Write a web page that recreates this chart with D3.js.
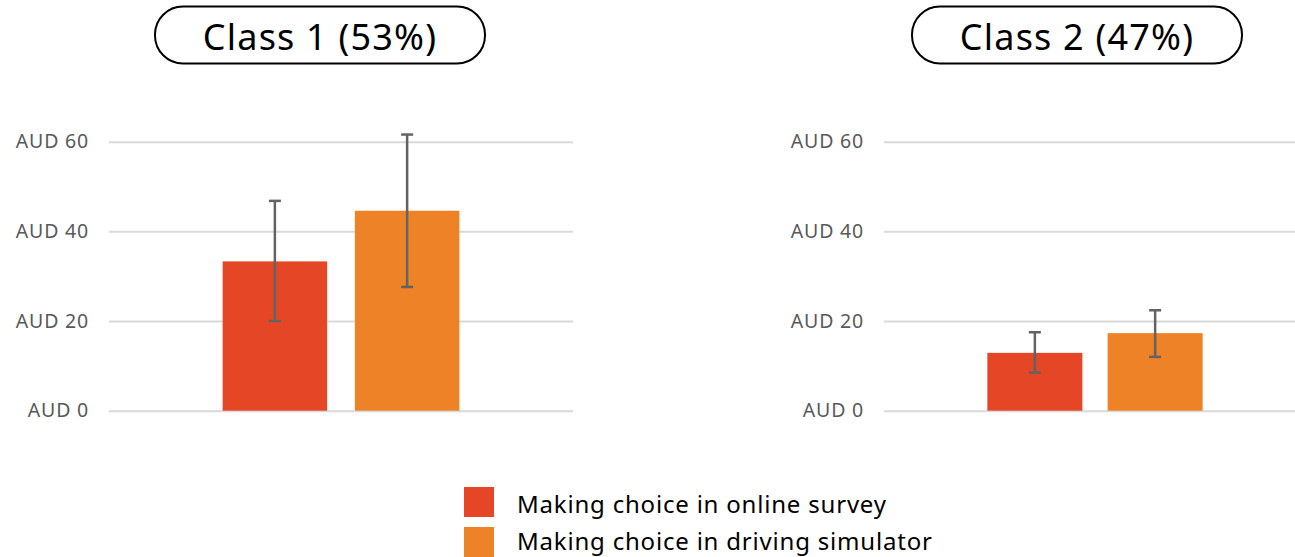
<!DOCTYPE html>
<html>
<head>
<meta charset="utf-8">
<script src="https://cdn.jsdelivr.net/npm/d3@7"></script>
<style>
  body { margin: 0; background: #fff; }
  svg { display: block; font-family: "Noto Sans", sans-serif; }
</style>
</head>
<body>
<div id="chart"></div>
<script>
// Data
const classes = ["Class 1 (53%)", "Class 2 (47%)"];
const series = ["Making choice in online survey", "Making choice in driving simulator"];
const colors = ["#E54726", "#EE8227"];
const onlineMean = [33.3, 12.9];
const onlineLow = [20.0, 8.5];
const onlineHigh = [46.8, 17.5];
const simMean = [44.6, 17.3];
const simLow = [27.6, 12.0];
const simHigh = [61.6, 22.4];
const yTicks = [0, 20, 40, 60];

const W = 1295, H = 557;
const svg = d3.select('#chart').append('svg')
  .attr('width', W)
  .attr('height', H);

// shared y scale
const y = d3.scaleLinear().domain([0, 60]).range([410.7, 141.7]);

// panel placement (left / right)
const panels = [
  { x0: 109, x1: 573, box: [155, 485] },
  { x0: 884, x1: 1306, box: [912, 1242] }
];

classes.forEach((cls, i) => {
  const p = panels[i];
  const g = svg.append('g');

  // title box
  g.append('rect')
    .attr('x', p.box[0])
    .attr('y', 6.5)
    .attr('width', p.box[1] - p.box[0])
    .attr('height', 57)
    .attr('rx', 28)
    .attr('fill', 'none')
    .attr('stroke', '#000')
    .attr('stroke-width', 2);
  g.append('text')
    .attr('x', (p.box[0] + p.box[1]) / 2)
    .attr('y', 50)
    .attr('text-anchor', 'middle')
    .attr('font-size', 36)
    .attr('letter-spacing', 1.2)
    .attr('fill', '#000')
    .text(cls);

  // grid + tick labels
  const axis = g.append('g')
    .attr('transform', `translate(${p.x0},0)`)
    .call(d3.axisLeft(y).tickValues(yTicks).tickSize(-(p.x1 - p.x0)).tickPadding(20)
      .tickFormat(d => 'AUD ' + d));
  axis.select('.domain').remove();
  axis.selectAll('line').attr('stroke', '#d9d9d9').attr('stroke-width', 2);
  axis.selectAll('text')
    .attr('fill', '#595959')
    .attr('font-size', 19.5)
    .attr('letter-spacing', 0.8)
    .attr('font-family', '"Noto Sans", sans-serif');

  // bars
  const x0 = d3.scaleBand().domain([cls]).range([p.x0, p.x1]).paddingOuter(0.48).paddingInner(0);
  const x1 = d3.scaleBand().domain(series).range([x0(cls), x0(cls) + x0.bandwidth()]).paddingInner(0.21);

  const rows = [
    { s: series[0], mean: onlineMean[i], lo: onlineLow[i], hi: onlineHigh[i], c: colors[0] },
    { s: series[1], mean: simMean[i], lo: simLow[i], hi: simHigh[i], c: colors[1] }
  ];

  g.selectAll('rect.bar')
    .data(rows)
    .join('rect')
    .attr('class', 'bar')
    .attr('x', d => x1(d.s))
    .attr('y', d => y(d.mean))
    .attr('width', x1.bandwidth())
    .attr('height', d => y(0) - y(d.mean))
    .attr('fill', d => d.c);

  // error bars
  const eb = g.selectAll('g.err')
    .data(rows)
    .join('g')
    .attr('class', 'err')
    .attr('stroke', '#636363')
    .attr('stroke-width', 2.5);
  eb.append('line')
    .attr('x1', d => x1(d.s) + x1.bandwidth() / 2)
    .attr('x2', d => x1(d.s) + x1.bandwidth() / 2)
    .attr('y1', d => y(d.lo))
    .attr('y2', d => y(d.hi));
  [d => d.lo, d => d.hi].forEach(acc => {
    eb.append('line')
      .attr('x1', d => x1(d.s) + x1.bandwidth() / 2 - 6)
      .attr('x2', d => x1(d.s) + x1.bandwidth() / 2 + 6)
      .attr('y1', d => y(acc(d)))
      .attr('y2', d => y(acc(d)));
  });
});

// legend (last line kept clear of the bottom edge)
const legend = svg.append('g').attr('transform', 'translate(464,487)');
const item = legend.selectAll('g')
  .data(series)
  .join('g')
  .attr('transform', (d, i) => `translate(0,${i * 40})`);
item.append('rect')
  .attr('width', 30)
  .attr('height', 30)
  .attr('fill', (d, i) => colors[i]);
item.append('text')
  .attr('x', 53)
  .attr('y', (d, i) => i === 0 ? 26 : 22.5)
  .attr('font-size', 24)
  .attr('letter-spacing', 0.8)
  .attr('fill', '#000')
  .text(d => d);
</script>
</body>
</html>
